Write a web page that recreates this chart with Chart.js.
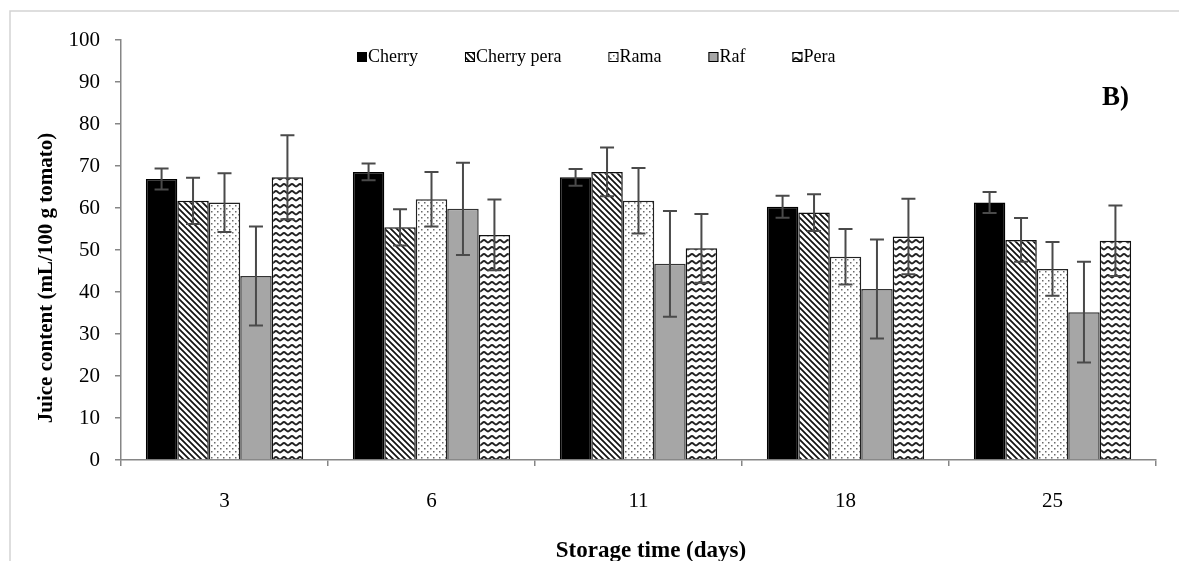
<!DOCTYPE html>
<html><head><meta charset="utf-8">
<script src="https://cdn.jsdelivr.net/npm/chart.js@4.4.1/dist/chart.umd.min.js"></script>
<style>html,body{margin:0;padding:0;background:#fff;}#wrap{width:1179px;height:561px;position:relative;}</style>
</head><body><div id="wrap"><canvas id="c"></canvas></div>
<script>
// ---- data ----
const categories = ['3', '6', '11', '18', '25'];
const seriesNames = ['Cherry', 'Cherry pera', 'Rama', 'Raf', 'Pera'];
const cherry      = [66.9, 68.6, 67.3, 60.3, 61.3];
const cherryErr   = [2.5, 2.0, 2.0, 2.6, 2.5];
const cherryPera  = [61.7, 55.4, 68.6, 58.9, 52.4];
const cherryPeraErr = [5.5, 4.3, 5.8, 4.4, 5.2];
const rama        = [61.3, 62.1, 61.7, 48.4, 45.5];
const ramaErr     = [7.0, 6.5, 7.8, 6.6, 6.4];
const raf         = [43.8, 59.8, 46.7, 40.7, 35.2];
const rafErr      = [11.8, 11.0, 12.6, 11.8, 12.0];
const pera        = [67.3, 53.6, 50.4, 53.2, 52.2];
const peraErr     = [10.0, 8.4, 8.2, 9.0, 8.4];
const yMin = 0, yMax = 100, yStep = 10;
const yTitle = 'Juice content (mL/100 g tomato)';
const xTitle = 'Storage time (days)';
const panelLabel = 'B)';

// ---- patterns ----
function tile(w, h, draw) {
  const c = document.createElement('canvas'); c.width = w; c.height = h;
  const g = c.getContext('2d'); g.fillStyle = '#fff'; g.fillRect(0, 0, w, h); draw(g, w, h);
  return document.createElement('canvas').getContext('2d').createPattern(c, 'repeat');
}
const patDiag = tile(6, 6, (g, w, h) => {
  g.strokeStyle = '#111'; g.lineWidth = 1.7;
  g.beginPath(); g.moveTo(-1, -1); g.lineTo(w + 1, h + 1);
  g.moveTo(-1, h - 1); g.lineTo(1, h + 1); g.moveTo(w - 1, -1); g.lineTo(w + 1, 1); g.stroke();
});
const patDots = tile(6, 6, (g) => {
  g.fillStyle = '#6a6a6a';
  g.fillRect(1, 1, 1.5, 1.5); g.fillRect(4, 4, 1.5, 1.5);
});
const patWave = tile(8, 7, (g) => {
  g.strokeStyle = '#222'; g.lineWidth = 1.8;
  g.beginPath();
  g.moveTo(0, 4.5);
  g.bezierCurveTo(1.3, 4.5, 2.7, 2, 4, 2);
  g.bezierCurveTo(5.3, 2, 6.7, 4.5, 8, 4.5);
  g.stroke();
});
const fills = ['#000000', patDiag, patDots, '#a6a6a6', patWave];
const borders = ['#000000', '#111111', '#222222', '#333333', '#111111'];
const values = [cherry, cherryPera, rama, raf, pera];
const errors = [cherryErr, cherryPeraErr, ramaErr, rafErr, peraErr];

const datasets = seriesNames.map((n, i) => ({
  label: n, data: values[i], errors: errors[i],
  backgroundColor: fills[i], borderColor: borders[i], borderWidth: 1.5,
  categoryPercentage: 0.76, barPercentage: 1.0
}));

const SERIF = '"Liberation Serif", "Times New Roman", serif';

const errorBars = {
  id: 'errorBars',
  afterDatasetsDraw(chart) {
    const ctx = chart.ctx, ys = chart.scales.y;
    ctx.save();
    ctx.strokeStyle = '#4a4a4a'; ctx.lineWidth = 2;
    chart.data.datasets.forEach((ds, i) => {
      const meta = chart.getDatasetMeta(i);
      meta.data.forEach((el, j) => {
        const v = ds.data[j], e = ds.errors[j];
        const yt = ys.getPixelForValue(v + e), yb = ys.getPixelForValue(v - e);
        const x = el.x, cw = 7;
        ctx.beginPath();
        ctx.moveTo(x, yt); ctx.lineTo(x, yb);
        ctx.moveTo(x - cw, yt); ctx.lineTo(x + cw, yt);
        ctx.moveTo(x - cw, yb); ctx.lineTo(x + cw, yb);
        ctx.stroke();
      });
    });
    ctx.restore();
  }
};

const decorations = {
  id: 'decorations',
  beforeDraw(chart) {
    const ctx = chart.ctx;
    ctx.save();
    ctx.strokeStyle = '#d3d3d3'; ctx.lineWidth = 1.5;
    ctx.beginPath(); ctx.moveTo(10, 561); ctx.lineTo(10, 11); ctx.lineTo(1179, 11); ctx.stroke();
    ctx.restore();
  },
  afterDraw(chart) {
    const ctx = chart.ctx;
    ctx.save();
    ctx.fillStyle = '#000';
    ctx.font = 'bold 21px ' + SERIF;
    ctx.textAlign = 'center'; ctx.textBaseline = 'middle';
    ctx.translate(47, 278); ctx.rotate(-Math.PI / 2);
    ctx.fillText(yTitle, 0, 0);
    ctx.setTransform(1, 0, 0, 1, 0, 0);
    ctx.font = 'bold 23px ' + SERIF;
    ctx.textAlign = 'center'; ctx.textBaseline = 'alphabetic';
    ctx.fillText(xTitle, 651, 557);
    ctx.font = 'bold 27px ' + SERIF;
    ctx.textAlign = 'left'; ctx.textBaseline = 'alphabetic';
    ctx.fillText(panelLabel, 1102, 105);
    ctx.font = '18px ' + SERIF;
    ctx.textBaseline = 'middle';
    let x = 357; const yc = 57, bs = 10;
    chart.data.datasets.forEach((ds) => {
      ctx.fillStyle = ds.backgroundColor;
      ctx.fillRect(x, yc - bs / 2, bs, bs);
      ctx.strokeStyle = '#000'; ctx.lineWidth = 1;
      ctx.strokeRect(x + 0.5, yc - bs / 2 + 0.5, bs - 1, bs - 1);
      ctx.fillStyle = '#000';
      ctx.fillText(ds.label, x + bs + 1, yc);
      x += bs + 1 + ctx.measureText(ds.label).width + 47;
    });
    ctx.restore();
  }
};

new Chart(document.getElementById('c'), {
  type: 'bar',
  data: { labels: categories, datasets },
  options: {
    responsive: true, maintainAspectRatio: false, animation: false,
    layout: { padding: { left: 0, right: 23, top: 40, bottom: 0 } },
    plugins: { legend: { display: false }, tooltip: { enabled: false } },
    scales: {
      x: {
        grid: { display: true, offset: true, drawOnChartArea: false, drawTicks: true, tickLength: 6, color: '#868686', lineWidth: 1.5 },
        border: { display: true, color: '#868686', width: 1.5 },
        ticks: { color: '#000', font: { family: SERIF, size: 21 }, padding: 23 },
        afterFit(s) { s.height = 101; }
      },
      y: {
        min: yMin, max: yMax,
        grid: { display: true, drawOnChartArea: false, drawTicks: true, tickLength: 6, color: '#868686', lineWidth: 1.5 },
        border: { display: true, color: '#868686', width: 1.5 },
        ticks: { stepSize: yStep, color: '#000', font: { family: SERIF, size: 21 }, padding: 15 },
        afterFit(s) { s.width = 121; }
      }
    }
  },
  plugins: [errorBars, decorations]
});
</script>
</body></html>
